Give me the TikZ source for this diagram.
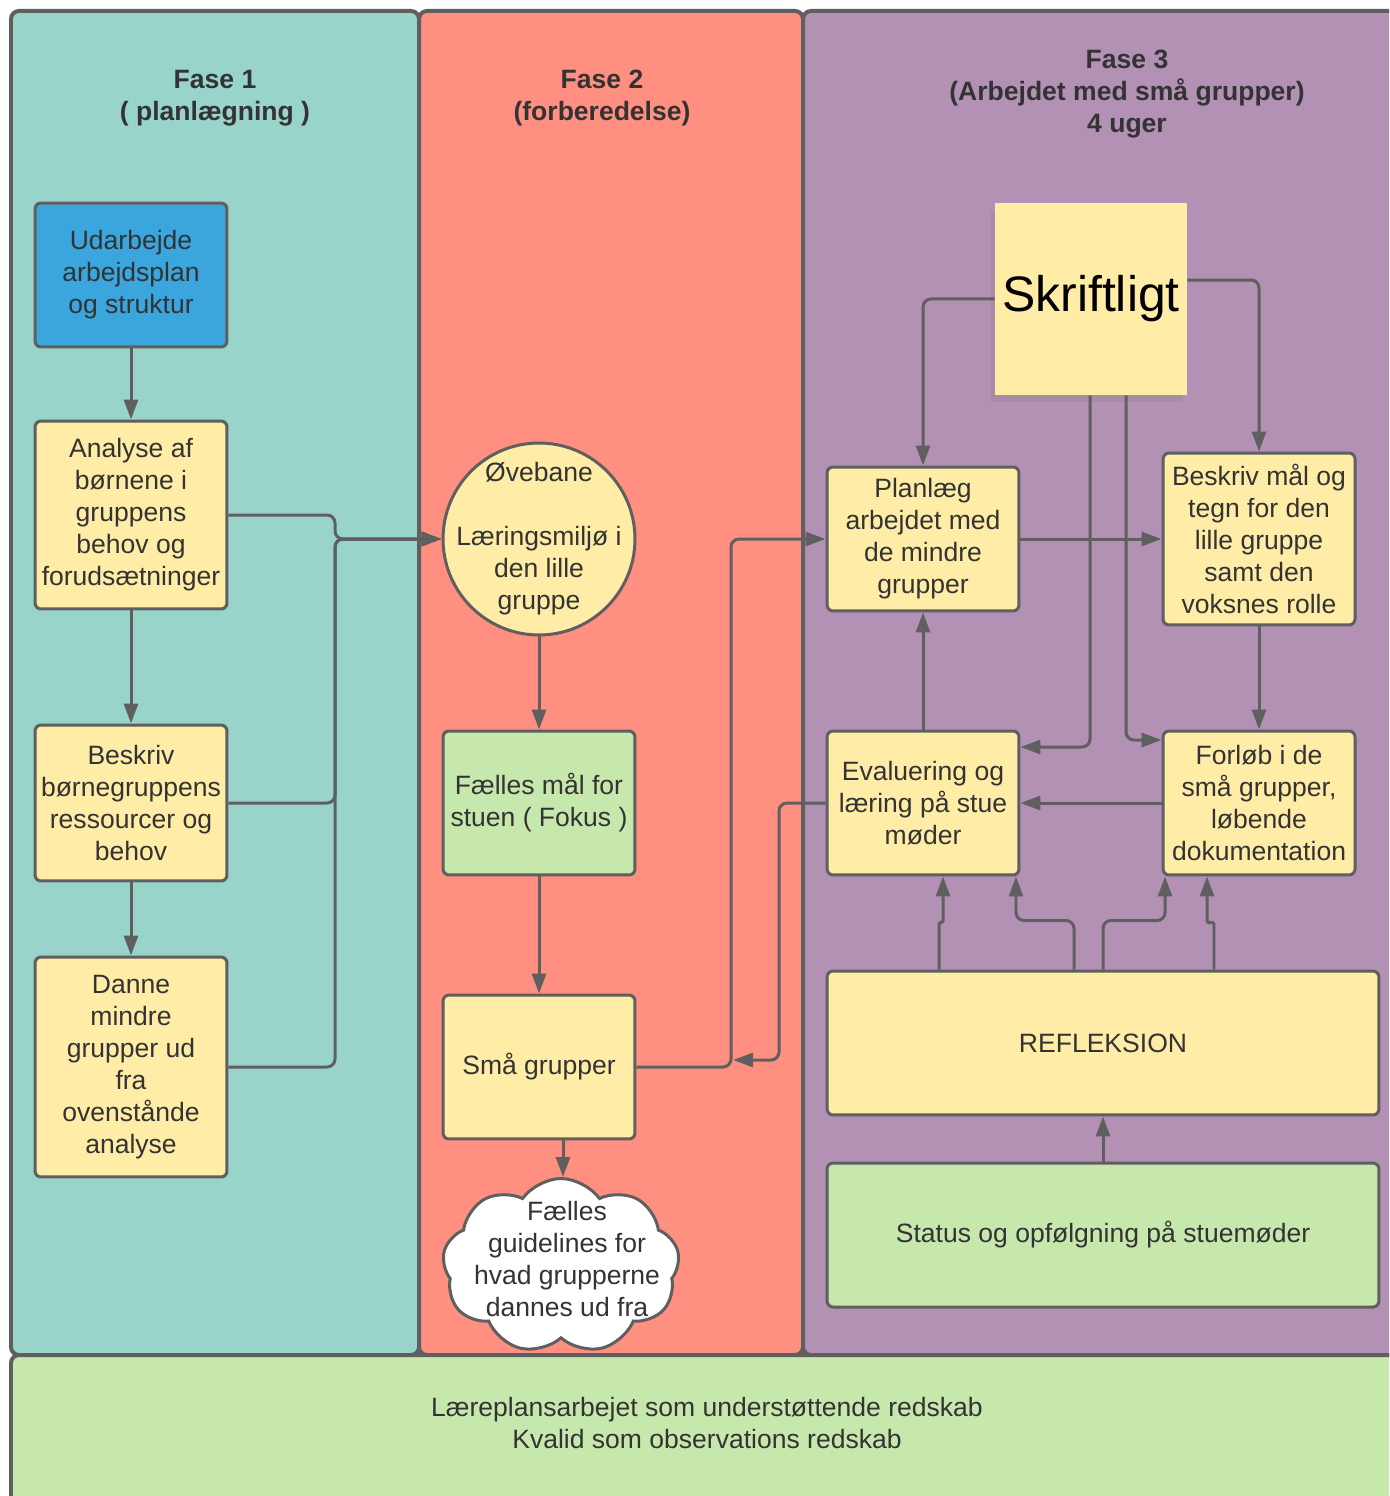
\documentclass[tikz,border=0pt]{standalone}
\usepackage{fontspec}
\setmainfont{Liberation Sans}
\usetikzlibrary{arrows.meta,shapes.symbols,shadows,calc}
\definecolor{colorteal}{HTML}{99D4CA}
\definecolor{colorsalmon}{HTML}{FF8F80}
\definecolor{colorplum}{HTML}{B391B5}
\definecolor{coloryel}{HTML}{FFECA6}
\definecolor{colorgreen}{HTML}{C7E8AC}
\definecolor{colorblue}{HTML}{3AA6DD}
\definecolor{colorline}{HTML}{5F5F5F}
\definecolor{colortext}{HTML}{333333}
\tikzset{
  lane/.style={draw=colorline, line width=0.08cm, rounded corners=0.16cm},
  lbltext/.style={text=colortext, align=center, inner sep=0pt,
    font=\fontsize{15.1pt}{18.2pt}\selectfont},
  head/.style={lbltext, font=\fontsize{15.1pt}{18.2pt}\selectfont\bfseries},
  stepbox/.style={lbltext, draw=colorline, line width=0.06cm,
    rounded corners=0.12cm, fill=coloryel,
    minimum width=3.84cm, minimum height=2.88cm},
  edgeflow/.style={colorline, line width=0.06cm, rounded corners=0.16cm,
    -{Triangle[length=0.4cm,width=0.28cm]}}
}

\begin{document}
\begin{tikzpicture}[x=0.02cm, y=-0.02cm]
\clip (0,0) rectangle (1389,1496);

\draw[lane, fill=colorteal] (11,11) rectangle (419,1355);
\draw[lane, fill=colorsalmon] (419,11) rectangle (803,1355);
\draw[lane, fill=colorplum] (803,11) rectangle (1420,1355);
\draw[lane, fill=colorgreen] (11,1355) rectangle (1420,1520);

\node[head] (h1) at (215,98) {Fase 1\\( planlægning )};
\node[head] (h2) at (602,98) {Fase 2\\(forberedelse)};
\node[head] (h3) at (1127,94) {Fase 3\\(Arbejdet med små grupper)\\4 uger};

\node[stepbox, fill=colorblue] (a) at (131,275)
{Udarbejde\\arbejdsplan\\og struktur};

\node[stepbox, minimum height=3.76cm] (b) at (131,515)
{Analyse af\\børnene i\\gruppens\\behov og\\forudsætninger};

\node[stepbox, minimum height=3.12cm] (c) at (131,803)
{Beskriv\\børnegruppens\\ressourcer og\\behov};

\node[stepbox, minimum height=4.4cm] (d) at (131,1067)
{Danne\\mindre\\grupper ud\\fra\\ovenstånde\\analyse};

\node[stepbox, circle, minimum size=3.84cm,
  label={[lbltext]center:{Øvebane\\[18.2pt]Læringsmiljø i\\den lille\\gruppe}}]
  (e) at (539,539) {};

\node[stepbox, fill=colorgreen] (f) at (539,803)
{Fælles mål for\\stuen ( Fokus )};

\node[stepbox] (g) at (539,1067) {Små grupper};

\node[cloud, cloud puffs=9, cloud puff arc=110, aspect=1.4, draw=colorline,
  line width=0.06cm, fill=white, inner sep=0pt,
  minimum width=4.74cm, minimum height=3.5cm,
  label={[lbltext, xshift=0.12cm, yshift=0.14cm]center:{Fælles\\guidelines for\\hvad grupperne\\dannes ud fra}}]
  (h) at (561,1266) {};

\node[fill=coloryel, inner sep=0pt, minimum size=3.84cm,
  drop shadow={shadow xshift=-0.08cm, shadow yshift=-0.14cm, opacity=0.25},
  font=\fontsize{28.4pt}{34pt}\selectfont] (i) at (1091,299) {Skriftligt};

\node[stepbox] (j) at (923,539)
{Planlæg\\arbejdet med\\de mindre\\grupper};

\node[stepbox, minimum height=3.44cm] (k) at (1259,539)
{Beskriv mål og\\tegn for den\\lille gruppe\\samt den\\voksnes rolle};

\node[stepbox] (l) at (923,803)
{Evaluering og\\læring på stue\\møder};

\node[stepbox] (m) at (1259,803)
{Forløb i de\\små grupper,\\løbende\\dokumentation};

\node[stepbox, minimum width=11.04cm] (n) at (1103,1043) {REFLEKSION};

\node[stepbox, minimum width=11.04cm, fill=colorgreen] (o) at (1103,1235)
{Status og opfølgning på stuemøder};

\node[lbltext] (p) at (707,1423)
{Læreplansarbejet som understøttende redskab\\Kvalid som observations redskab};

\coordinate (q1) at (335,539);
\coordinate (q2) at (731,539);
\coordinate (q3) at (779,1060);
\coordinate (q4) at (733,1060);

\draw[edgeflow] (a) -- (b);
\draw[edgeflow] (b) -- (c);
\draw[edgeflow] (c) -- (d);
\draw[edgeflow] (b.east) -| (q1) -- (e);
\draw[edgeflow] (c.east) -| (q1) -- (e);
\draw[edgeflow] (d.east) -| (q1) -- (e);

\draw[edgeflow] (e) -- (f);
\draw[edgeflow] (f) -- (g);
\draw[edgeflow] ([xshift=0.48cm]g.south) -- ([xshift=0.48cm]g.south |- h.north);
\draw[edgeflow] (g.east) -| (q2) -- (j);
\draw[edgeflow] (l.west) -| (q3) -- (q4);

\draw[edgeflow] (i.west) -| (j.north);
\draw[edgeflow] ([yshift=0.38cm]i.east) -| (k.north);
\draw[edgeflow] ([xshift=-0.02cm]i.south) |- ([yshift=1.12cm]l.east);
\draw[edgeflow] ([xshift=0.7cm]i.south) |- ([yshift=1.26cm]m.west);
\draw[edgeflow] (j) -- (k);
\draw[edgeflow] (k) -- (m);
\draw[edgeflow] (l) -- (j);
\draw[edgeflow] (m) -- (l);

\draw[edgeflow, rounded corners=0.03cm] ([xshift=-3.28cm]n.north) -- ++(0,-47) -| ([xshift=0.4cm]l.south);
\draw[edgeflow] ([xshift=-0.58cm]n.north) -- ++(0,-49) -| ([xshift=1.86cm]l.south);
\draw[edgeflow] (n.north) -- ++(0,-49) -| ([xshift=-1.88cm]m.south);
\draw[edgeflow, rounded corners=0.03cm] ([xshift=2.22cm]n.north) -- ++(0,-47) -| ([xshift=-1.04cm]m.south);
\draw[edgeflow] (o) -- (n);
\end{tikzpicture}
\end{document}
